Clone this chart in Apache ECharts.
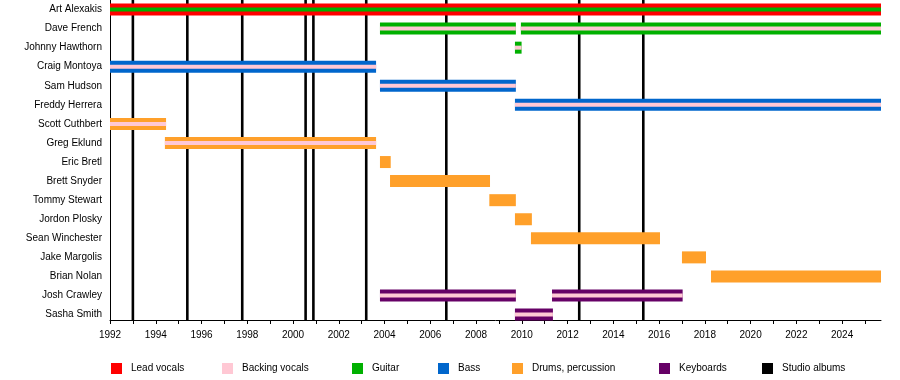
<!DOCTYPE html>
<html>
<head>
<meta charset="utf-8">
<script src="https://cdn.jsdelivr.net/npm/echarts@6/dist/echarts.min.js"></script>
<style>
html,body{margin:0;padding:0;background:#fff;}
#chart{width:900px;height:380px;}
</style>
</head>
<body>
<div id="chart"></div>
<script>
// ---- data ----
const members = ["Art Alexakis","Dave French","Johnny Hawthorn","Craig Montoya","Sam Hudson","Freddy Herrera","Scott Cuthbert","Greg Eklund","Eric Bretl","Brett Snyder","Tommy Stewart","Jordon Plosky","Sean Winchester","Jake Margolis","Brian Nolan","Josh Crawley","Sasha Smith"];
const startYear = 1992;
const endYear = 2025.7;

const leadVocals = [["Art Alexakis", 1992, endYear]];
const guitar = [["Dave French", 2003.80, 2009.74], ["Dave French", 2009.96, endYear], ["Johnny Hawthorn", 2009.70, 2009.99]];
const guitarSecondary = [["Art Alexakis", 1992, endYear]];
const bass = [["Craig Montoya", 1992, 2003.63], ["Sam Hudson", 2003.80, 2009.74], ["Freddy Herrera", 2009.70, endYear]];
const drums = [["Scott Cuthbert", 1992, 1994.45], ["Greg Eklund", 1994.40, 2003.63], ["Eric Bretl", 2003.80, 2004.27], ["Brett Snyder", 2004.24, 2008.61], ["Tommy Stewart", 2008.58, 2009.74], ["Jordon Plosky", 2009.70, 2010.44], ["Sean Winchester", 2010.40, 2016.04], ["Jake Margolis", 2017.00, 2018.05], ["Brian Nolan", 2018.27, endYear]];
const keyboards = [["Josh Crawley", 2003.80, 2009.74], ["Josh Crawley", 2011.32, 2017.03], ["Sasha Smith", 2009.70, 2011.36]];
const backingVocals = [["Dave French", 2003.80, 2009.74], ["Dave French", 2009.96, endYear], ["Johnny Hawthorn", 2009.70, 2009.99], ["Craig Montoya", 1992, 2003.63], ["Sam Hudson", 2003.80, 2009.74], ["Freddy Herrera", 2009.70, endYear], ["Scott Cuthbert", 1992, 1994.45], ["Greg Eklund", 1994.40, 2003.63], ["Josh Crawley", 2003.80, 2009.74], ["Josh Crawley", 2011.32, 2017.03], ["Sasha Smith", 2009.70, 2011.36]];
const studioAlbums = [1993.0, 1995.38, 1997.78, 2000.55, 2000.89, 2003.2, 2006.70, 2012.51, 2015.31];

const legendNames = ["Lead vocals","Backing vocals","Guitar","Bass","Drums, percussion","Keyboards","Studio albums"];
const legendLeft = [111, 222, 352, 438, 512, 659, 762];

// ---- styles ----
const COLORS = {
  "Lead vocals": "#FF0000",
  "Backing vocals": "#FFC8D4",
  "Guitar": "#00B000",
  "Bass": "#0066CC",
  "Drums, percussion": "#FFA02A",
  "Keyboards": "#660066",
  "Studio albums": "#000000"
};
const FONT = "'Liberation Sans', Arial, sans-serif";

function toData(list){
  return list.map(r => [r[1], r[2], members.indexOf(r[0])]);
}

function barSeries(name, list, thick, z2){
  const color = COLORS[name];
  return {
    name: name,
    type: 'custom',
    xAxisIndex: 0,
    yAxisIndex: 0,
    z: 3,
    itemStyle: {color: color},
    encode: {x: [0, 1], y: 2},
    data: toData(list),
    renderItem: function(params, api){
      const s = api.coord([api.value(0), api.value(2)]);
      const e = api.coord([api.value(1), api.value(2)]);
      return {
        type: 'rect',
        z2: z2,
        shape: {x: s[0], y: s[1] - thick / 2, width: e[0] - s[0], height: thick},
        style: {fill: color}
      };
    }
  };
}

const chart = echarts.init(document.getElementById('chart'), null, {renderer: 'canvas'});

const option = {
  animation: false,
  backgroundColor: '#ffffff',
  textStyle: {fontFamily: FONT},
  grid: [
    {left: 110, right: 19, top: -2.8, height: 326.9},
    {left: 110, right: 19, top: 0, height: 320}
  ],
  xAxis: [
    {gridIndex: 0, type: 'value', min: startYear, max: endYear, show: false},
    {
      gridIndex: 1, type: 'value', min: startYear, max: endYear, interval: 1,
      axisLine: {show: true, lineStyle: {color: '#000', width: 1}},
      axisTick: {show: true, length: 4, lineStyle: {color: '#000'}},
      splitLine: {show: false},
      axisLabel: {
        show: true, margin: 10, fontSize: 10, color: '#000', fontFamily: FONT,
        showMaxLabel: false,
        formatter: function(v){ return (Math.abs(v - Math.round(v)) < 1e-6 && Math.round(v) % 2 === 0) ? String(Math.round(v)) : ''; }
      }
    }
  ],
  yAxis: [
    {
      gridIndex: 0, type: 'category', inverse: true, data: members,
      axisLine: {show: false}, axisTick: {show: false}, splitLine: {show: false},
      axisLabel: {margin: 8, fontSize: 10, color: '#000', fontFamily: FONT}
    },
    {
      gridIndex: 1, type: 'value', min: 0, max: 1,
      axisLine: {show: true, lineStyle: {color: '#000', width: 1}},
      axisTick: {show: false}, axisLabel: {show: false}, splitLine: {show: false}
    }
  ],
  legend: legendNames.map((n, i) => ({
    data: [n],
    left: legendLeft[i],
    top: 363,
    padding: 0,
    icon: 'rect',
    itemWidth: 11,
    itemHeight: 11,
    selectedMode: false,
    textStyle: {fontSize: 10, color: '#000', fontFamily: FONT, padding: [0, 0, 0, 4]}
  })),
  series: [
    {
      name: 'Studio albums',
      type: 'custom',
      xAxisIndex: 1,
      yAxisIndex: 1,
      z: 1,
      itemStyle: {color: COLORS['Studio albums']},
      encode: {x: 0, y: 1},
      data: studioAlbums.map(y => [y, 0]),
      renderItem: function(params, api){
        const p0 = api.coord([api.value(0), 0]);
        const p1 = api.coord([api.value(0), 1]);
        return {
          type: 'line',
          shape: {x1: p0[0], y1: p0[1], x2: p1[0], y2: p1[1]},
          style: {stroke: '#000', lineWidth: 2.6}
        };
      }
    },
    barSeries('Lead vocals', leadVocals, 12, 1),
    barSeries('Guitar', guitar, 12, 1),
    barSeries('Bass', bass, 12, 1),
    barSeries('Drums, percussion', drums, 12, 1),
    barSeries('Keyboards', keyboards, 12, 1),
    barSeries('Backing vocals', backingVocals, 4, 2),
    barSeries('Guitar', guitarSecondary, 4, 2)
  ]
};

chart.setOption(option);
</script>
</body>
</html>
